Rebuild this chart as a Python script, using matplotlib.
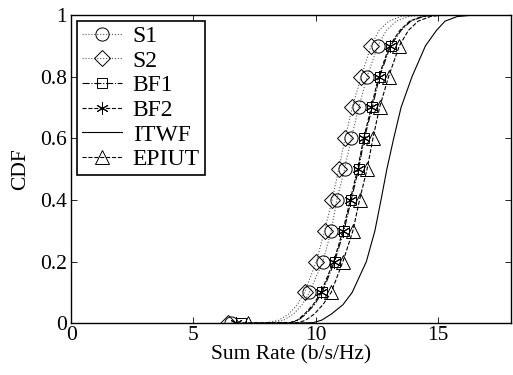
import matplotlib
matplotlib.use("Agg")
import matplotlib.pyplot as plt

cdf_levels = [0.0, 0.002, 0.01, 0.03, 0.06, 0.1, 0.2, 0.3, 0.4, 0.5,
              0.6, 0.7, 0.8, 0.9, 0.95, 0.98, 0.995, 1.0]

# sum rate (b/s/Hz) at each CDF level
s1 = [6.55, 8.2, 8.7, 9.1, 9.45, 9.75, 10.3, 10.64, 10.87, 11.19,
      11.46, 11.77, 12.11, 12.55, 12.9, 13.3, 13.8, 14.4]
s2 = [6.42, 8.0, 8.5, 8.9, 9.25, 9.55, 10.03, 10.37, 10.68, 10.95,
      11.21, 11.5, 11.87, 12.27, 12.6, 13.0, 13.5, 14.2]
bf1 = [6.95, 9.0, 9.3, 9.6, 9.95, 10.27, 10.78, 11.16, 11.46, 11.76,
       12.0, 12.32, 12.62, 13.07, 13.5, 13.9, 14.4, 15.0]
bf2 = [6.76, 8.95, 9.25, 9.55, 9.9, 10.22, 10.74, 11.12, 11.42, 11.72,
       11.97, 12.28, 12.58, 13.03, 13.45, 13.85, 14.35, 14.9]
itwf = [9.0, 9.9, 10.25, 10.65, 11.12, 11.5, 12.08, 12.43, 12.68, 12.92,
        13.2, 13.5, 13.95, 14.5, 14.95, 15.3, 15.8, 16.5]
epiut = [7.22, 9.3, 9.6, 9.95, 10.3, 10.64, 11.12, 11.53, 11.8, 12.11,
         12.35, 12.62, 12.99, 13.43, 13.8, 14.2, 14.7, 15.2]

series = [
    ("S1", s1, ":", "o", "0.35"),
    ("S2", s2, ":", "D", "0.35"),
    ("BF1", bf1, "-.", "s", "black"),
    ("BF2", bf2, "--", (6, 2, 0), "black"),
    ("ITWF", itwf, "-", None, "black"),
    ("EPIUT", epiut, "--", "^", "black"),
]
marker_sizes = [9.5, 8.5, 7, 9, 0, 10]

# markers at the deciles 0, 0.1, ..., 0.9
marker_idx = [0, 5, 6, 7, 8, 9, 10, 11, 12, 13]

plt.rcParams["font.family"] = ["Liberation Serif", "DejaVu Serif"]
plt.rcParams["font.size"] = 15.5

fig = plt.figure(figsize=(5.13, 3.75), dpi=100)
ax = fig.add_axes([0.139, 0.138, 0.857, 0.822])

for (name, xs, ls, mk, col), msize in zip(series, marker_sizes):
    ax.plot(xs, cdf_levels, linestyle=ls, color=col, linewidth=0.8,
            marker=mk, markersize=msize, markerfacecolor="none",
            markeredgecolor="black", markeredgewidth=0.7,
            markevery=marker_idx, label=name)

ax.set_xlim(0, 18)
ax.set_ylim(0, 1)
ax.set_xticks([0, 5, 10, 15])
ax.set_yticks([0, 0.2, 0.4, 0.6, 0.8, 1])
ax.set_yticklabels(["0", "0.2", "0.4", "0.6", "0.8", "1"])
ax.tick_params(direction="in", top=True, right=True, length=4, width=0.6)
ax.tick_params(axis="x", pad=2)
ax.tick_params(axis="y", pad=3)
for sp in ax.spines.values():
    sp.set_linewidth(1.0)

ax.set_xlabel("Sum Rate (b/s/Hz)", labelpad=0.5)
ax.set_ylabel("CDF", labelpad=7)

leg = ax.legend(loc="upper left", fancybox=False, edgecolor="black",
                framealpha=1, handlelength=1.7, borderpad=0.2,
                labelspacing=0.13, handletextpad=0.45, borderaxespad=0.25,
                fontsize=17)
leg.get_frame().set_linewidth(1.2)

fig.savefig("out.png", dpi=100)
